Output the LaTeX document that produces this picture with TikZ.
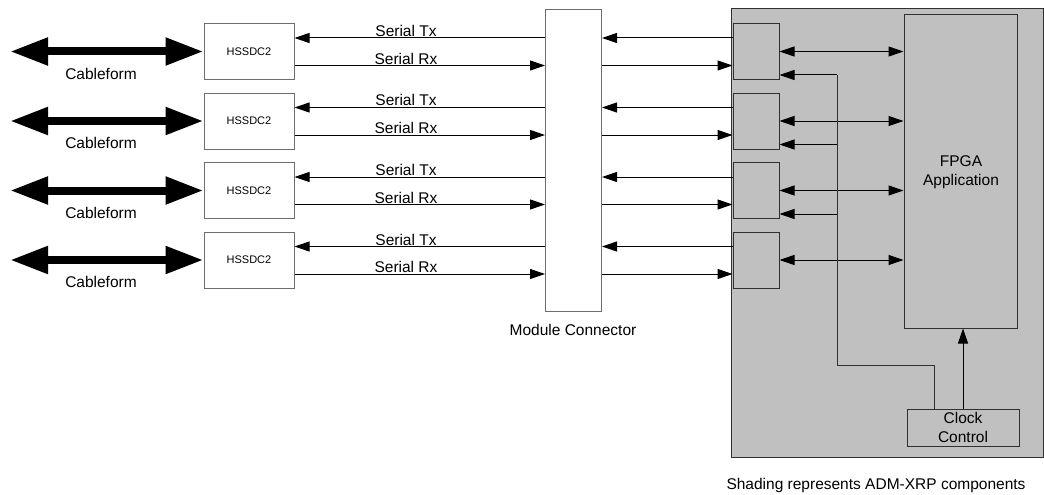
\documentclass[tikz,border=0pt]{standalone}
\usepackage{fontspec}
\setmainfont{Liberation Sans}
\usetikzlibrary{arrows.meta,calc}
\definecolor{shade}{HTML}{C0C0C0}
\definecolor{boxline}{HTML}{6E6E6E}
\definecolor{darkline}{HTML}{303030}
\tikzset{
  txt/.style={font=\fontsize{15.5}{19}\selectfont, inner sep=0pt, align=center},
  hsbox/.style={draw=boxline, line width=1pt, fill=white, minimum width=90pt, minimum height=56pt, inner sep=0pt, font=\fontsize{11}{13}\selectfont},
  rbox/.style={draw=darkline, line width=1pt, minimum width=46pt, minimum height=56pt, inner sep=0pt},
  arr/.style={line width=1pt, -{Triangle[length=15pt,width=10pt]}},
  darr/.style={line width=1pt, {Triangle[length=15pt,width=10pt]}-{Triangle[length=15pt,width=10pt]}},
  cable/.style={line width=8pt, {Triangle[length=38pt,width=26pt]}-{Triangle[length=38pt,width=26pt]}},
  plain/.style={line width=1pt, darkline}
}
\begin{document}
\begin{tikzpicture}[x=1pt,y=-1pt]
\useasboundingbox (0,0) rectangle (1044,495);
% shaded region
\node[draw=darkline, line width=1pt, fill=shade, minimum width=312pt, minimum height=448pt, inner sep=0pt] (adm) at (887,233) {};
% module connector
\node[draw=boxline, line width=1pt, minimum width=56pt, minimum height=301pt, inner sep=0pt] (mc) at (573.5,160.5) {};
\node[txt] (mclbl) at (573,330) {Module Connector};
% FPGA
\node[draw=darkline, line width=1pt, minimum width=113pt, minimum height=313pt, inner sep=0pt] (fpga) at (960.5,171.5) {};
\node[txt] (fpgalbl) at (961,172) {FPGA\\Application};
% clock control
\node[draw=darkline, line width=1pt, minimum width=112pt, minimum height=37pt, inner sep=0pt] (ck) at (963,427.5) {};
\node[txt] (cklbl) at (963,427.5) {Clock\\Control};
% caption
\node[txt] (cap) at (876,485) {Shading represents ADM-XRP components};

\foreach \i/\cy in {1/51.5, 2/121, 3/190.5, 4/260}{
  \node[hsbox] (h\i) at (249,\cy) {HSSDC2};
  \node[rbox] (b\i) at (756,\cy) {};
  \coordinate (tx\i) at (0,\cy-13.5);
  \coordinate (rx\i) at (0,\cy+14);
  \coordinate (br\i) at (0,\cy+23.5);
  \coordinate (cf\i) at (10,\cy);
  \draw[cable] (cf\i) -- (h\i.west);
  \node[txt] (cflbl\i) at (101,\cy+22) {Cableform};
  \draw[arr] (mc.west |- tx\i) -- (h\i.east |- tx\i);
  \draw[arr] (h\i.east |- rx\i) -- (mc.west |- rx\i);
  \node[txt, anchor=base] (txl\i) at (406,\cy-15) {Serial Tx};
  \node[txt, anchor=base] (rxl\i) at (406,\cy+12.5) {Serial Rx};
  \draw[arr] (b\i.west |- tx\i) -- (mc.east |- tx\i);
  \draw[arr] (mc.east |- rx\i) -- (b\i.west |- rx\i);
  \draw[darr] (b\i.east) -- (fpga.west |- b\i.east);
}
% clock distribution
\coordinate (cv) at (837,365);
\draw[plain] ([xshift=-29pt]ck.north) |- (cv) -- (cv |- br1);
\foreach \i in {1,2,3}{
  \draw[arr] (cv |- br\i) -- (b\i.east |- br\i);
}
\draw[arr] (ck.north) -- (ck.north |- fpga.south);
\end{tikzpicture}
\end{document}
